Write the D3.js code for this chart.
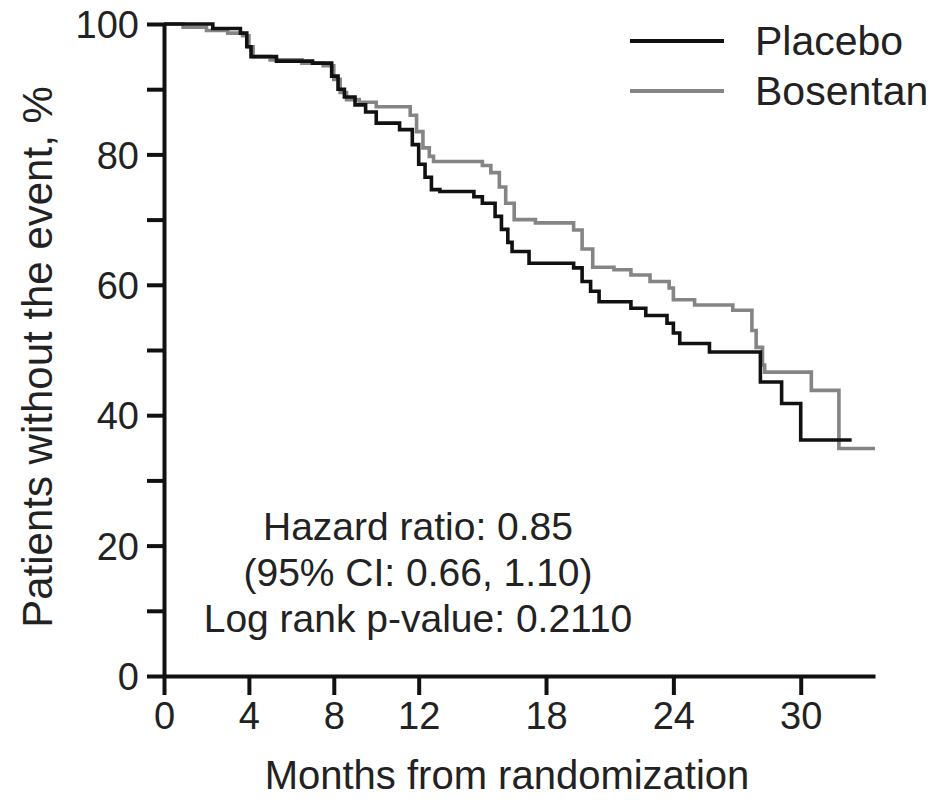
<!DOCTYPE html>
<html lang="en">
<head>
<meta charset="UTF-8">
<title>Kaplan-Meier: Placebo vs Bosentan</title>
<script src="https://d3js.org/d3.v7.min.js"></script>
<style>
  body { margin: 0; background: #fff; }
  svg { display: block; font-family: "Liberation Sans", Arial, sans-serif; }
  .axis path, .axis line { stroke: #111; stroke-width: 4; }
  .axis text { fill: #222; font-size: 38px; }
</style>
</head>
<body>
<script>
// months from randomization / % without event
const placeboMonths = [0, 2.3, 3.6, 3.9, 4.1, 5.3, 7.0, 7.9, 8.2, 8.5, 9.0, 9.5, 10.0, 11.1, 11.7, 12.0, 12.3, 12.6, 13.0, 14.6, 15.0, 15.6, 15.9, 16.2, 16.4, 17.2, 19.3, 19.7, 20.1, 20.5, 22.0, 22.7, 23.7, 24.0, 24.3, 25.7, 28.1, 29.1, 30.0, 32.4];
const placeboPct = [100, 99.3, 98.6, 96.5, 95.0, 94.3, 94.0, 92.0, 90.0, 88.8, 87.6, 86.5, 84.8, 83.8, 81.5, 78.5, 76.5, 74.6, 74.3, 73.5, 72.5, 70.5, 68.5, 66.5, 65.1, 63.3, 62.6, 60.5, 59.0, 57.4, 56.4, 55.3, 54.1, 52.6, 51.0, 49.7, 45.1, 41.8, 36.2, 36.2];

const bosentanMonths = [0, 0.9, 2.0, 3.0, 3.7, 4.0, 4.2, 5.0, 6.5, 7.5, 8.0, 8.3, 8.6, 9.2, 10.0, 11.6, 11.9, 12.2, 12.5, 12.7, 15.0, 15.4, 15.8, 16.1, 16.5, 17.5, 19.3, 19.7, 20.2, 21.2, 22.0, 22.9, 23.8, 24.0, 25.0, 26.8, 27.7, 27.9, 28.2, 28.3, 30.5, 31.8, 33.5];
const bosentanPct = [100, 99.5, 99.0, 98.6, 98.2, 96.5, 95.0, 94.5, 94.0, 93.6, 91.5, 89.5, 88.4, 88.0, 87.3, 86.0, 83.5, 81.0, 79.7, 78.9, 78.3, 77.2, 75.0, 72.5, 70.0, 69.5, 68.4, 65.5, 62.7, 62.3, 61.5, 60.5, 59.5, 57.7, 56.9, 56.1, 53.0, 50.4, 47.7, 46.6, 43.8, 34.9, 34.9];

const xTicks = [0, 4, 8, 12, 18, 24, 30];
const yTicks = [0, 10, 20, 30, 40, 50, 60, 70, 80, 90, 100];
const seriesNames = ["Placebo", "Bosentan"];
const seriesColors = ["#111111", "#858585"];
const statLines = ["Hazard ratio: 0.85", "(95% CI: 0.66, 1.10)", "Log rank p-value: 0.2110"];

const width = 937, height = 805;
const margin = { left: 164, top: 24, right: 62, bottom: 129 };

const svg = d3.select("body").append("svg")
  .attr("width", width)
  .attr("height", height);

const x = d3.scaleLinear().domain([0, 33.5]).range([margin.left, width - margin.right]);
const y = d3.scaleLinear().domain([0, 100]).range([height - margin.bottom, margin.top]);

// survival curves (stepped)
const line = d3.line()
  .x(d => x(d[0]))
  .y(d => y(d[1]))
  .curve(d3.curveStepAfter);

const series = [
  d3.zip(placeboMonths, placeboPct),
  d3.zip(bosentanMonths, bosentanPct)
];

// bosentan drawn first so placebo sits on top where they overlap
[1, 0].forEach(i => {
  svg.append("path")
    .datum(series[i])
    .attr("fill", "none")
    .attr("stroke", seriesColors[i])
    .attr("stroke-width", 3.6)
    .attr("d", line);
});

// axes
const xAxis = svg.append("g")
  .attr("class", "axis")
  .attr("transform", `translate(0,${y(0)})`)
  .call(d3.axisBottom(x).tickValues(xTicks).tickSize(19).tickSizeOuter(0).tickPadding(0));

const yAxis = svg.append("g")
  .attr("class", "axis")
  .attr("transform", `translate(${x(0)},0)`)
  .call(d3.axisLeft(y).tickValues(yTicks).tickSize(17).tickSizeOuter(0).tickPadding(8)
    .tickFormat(d => d % 20 === 0 ? d : ""));

xAxis.selectAll("text").attr("dy", "0.9em");
yAxis.selectAll("text").attr("dy", "0.36em");

// axis titles
svg.append("text")
  .attr("x", 507)
  .attr("y", 789)
  .attr("text-anchor", "middle")
  .attr("font-size", 40)
  .attr("fill", "#222")
  .text("Months from randomization");

svg.append("text")
  .attr("transform", `translate(52,357) rotate(-90)`)
  .attr("text-anchor", "middle")
  .attr("font-size", 42)
  .attr("fill", "#222")
  .text("Patients without the event, %");

// legend
const legend = svg.append("g").attr("transform", "translate(630,41)");
seriesNames.forEach((name, i) => {
  const g = legend.append("g").attr("transform", `translate(0,${i * 50})`);
  g.append("line")
    .attr("x1", 0).attr("x2", 94)
    .attr("stroke", seriesColors[i])
    .attr("stroke-width", 4);
  g.append("text")
    .attr("x", 125)
    .attr("y", 14)
    .attr("font-size", 41)
    .attr("fill", "#222")
    .text(name);
});

// statistics annotation
svg.append("g")
  .selectAll("text")
  .data(statLines)
  .join("text")
  .attr("x", 418)
  .attr("y", (d, i) => 540 + i * 46)
  .attr("text-anchor", "middle")
  .attr("font-size", 39)
  .attr("fill", "#222")
  .text(d => d);
</script>
</body>
</html>
